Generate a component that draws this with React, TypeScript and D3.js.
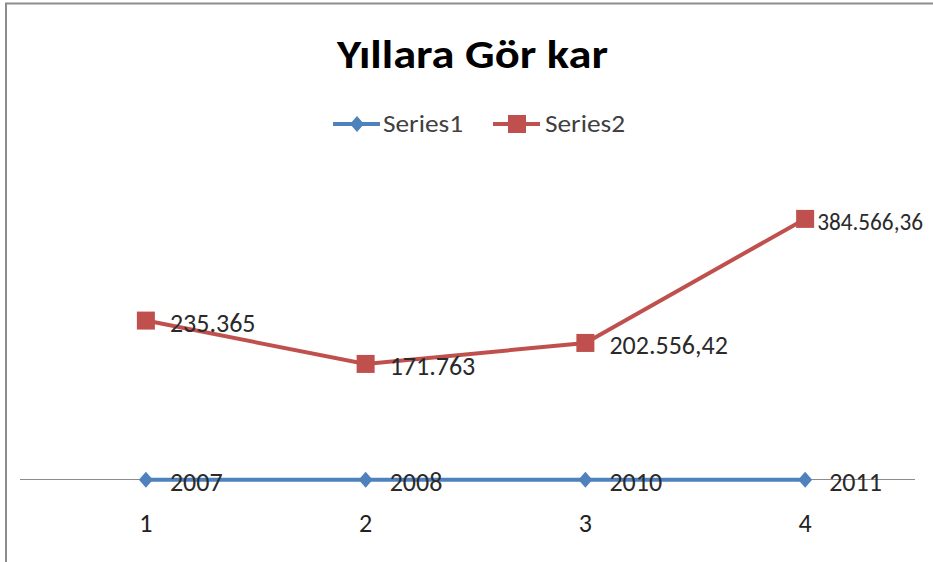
import * as React from 'react';
import * as d3 from 'd3';

const categories = ['1', '2', '3', '4'];
const series1 = [2007, 2008, 2010, 2011];
const series2 = [235365, 171763, 202556.42, 384566.36];
const seriesNames = ['Series1', 'Series2'];
const title = 'Yıllara Gör kar';

const trLocale = d3.formatLocale({ decimal: ',', thousands: '.', grouping: [3], currency: ['', ''] });
const fmt2 = trLocale.format(',.2~f');
const fmt1 = (v: number) => String(v);

const BLUE = '#4F81BD';
const RED = '#C0504D';
const FONT = "Carlito, 'Liberation Sans Narrow', 'Open Sans', sans-serif";

export default function App() {
  const W = 933;
  const H = 562;
  const x = d3.scaleBand<string>().domain(categories).range([36, 915]).paddingInner(0).paddingOuter(0);
  const cx = (c: string) => (x(c) as number) + x.bandwidth() / 2;
  const y = d3.scaleLinear().domain([0, 450000]).range([481, 174.3]);

  const line = d3
    .line<number>()
    .x((_, i) => cx(categories[i]))
    .y((d) => y(d));

  const diamond = 'M0,-8L7,0L0,8L-7,0Z';

  // label placement: right of marker, pulled in and squeezed when it would run off the edge
  const labelProps = (px: number, text: string) => {
    const est = text.length * 11.8;
    if (px + 24 + est > W - 2) {
      const x0 = px + 12;
      return { x: x0, fontSize: 24, textLength: W - 10 - x0, lengthAdjust: 'spacingAndGlyphs' };
    }
    return { x: px + 24 };
  };

  return (
    <svg width={W} height={H} style={{ position: 'absolute', left: 0, top: 0 }} fontFamily={FONT}>
      <rect x={0} y={0} width={W} height={H} fill="#fff" />
      {/* frame */}
      <path d={`M6,${H}V3.5H${W}`} fill="none" stroke="#8c8c8c" strokeWidth={2} />

      <text x={337} y={68} fontSize={40} fontWeight="bold" fill="#000" textLength={271} lengthAdjust="spacingAndGlyphs">
        {title}
      </text>

      {/* legend */}
      <g fontSize={25} fill="#404040">
        <line x1={333} x2={380} y1={124} y2={124} stroke={BLUE} strokeWidth={4} />
        <path d={diamond} transform="translate(357,124)" fill={BLUE} />
        <text x={383} y={132} textLength={80} lengthAdjust="spacingAndGlyphs">{seriesNames[0]}</text>
        <line x1={493} x2={540} y1={124} y2={124} stroke={RED} strokeWidth={4} />
        <rect x={508} y={115} width={18} height={18} fill={RED} />
        <text x={545} y={132} textLength={80} lengthAdjust="spacingAndGlyphs">{seriesNames[1]}</text>
      </g>

      {/* category axis */}
      <line x1={20} x2={915} y1={479.5} y2={479.5} stroke="#8c8c8c" strokeWidth={1} />
      <g fontSize={26} fill="#222" textAnchor="middle">
        {categories.map((c) => (
          <text key={c} x={cx(c)} y={532}>{c}</text>
        ))}
      </g>

      {/* series 2 */}
      <path d={line(series2) as string} fill="none" stroke={RED} strokeWidth={4} />
      {series2.map((v, i) => (
        <rect key={i} x={cx(categories[i]) - 9} y={y(v) - 9} width={18} height={18} fill={RED} />
      ))}
      {/* series 1 */}
      <path d={line(series1) as string} fill="none" stroke={BLUE} strokeWidth={4} />
      {series1.map((v, i) => (
        <path key={i} d={diamond} transform={`translate(${cx(categories[i])},${y(v)})`} fill={BLUE} />
      ))}

      <g fontSize={26} fill="#2a2a2a">
        {series2.map((v, i) => (
          <text key={i} y={y(v) + 11} {...labelProps(cx(categories[i]), fmt2(v))}>{fmt2(v)}</text>
        ))}
        {series1.map((v, i) => (
          <text key={i} y={y(v) + 11} {...labelProps(cx(categories[i]), fmt1(v))}>{fmt1(v)}</text>
        ))}
      </g>
    </svg>
  );
}
